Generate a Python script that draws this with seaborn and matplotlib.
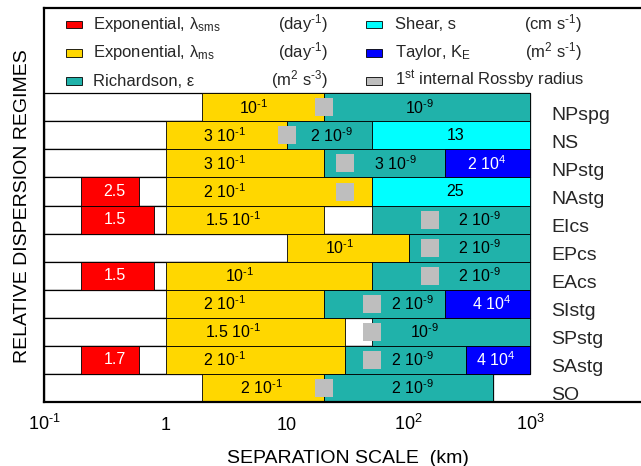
import numpy as np
import matplotlib
matplotlib.use("Agg")
import matplotlib.pyplot as plt
from matplotlib.patches import Rectangle
from matplotlib.ticker import NullLocator
import seaborn as sns

nan = np.nan

# ---------------- data ----------------
regimes = ["NPspg", "NS", "NPstg", "NAstg", "EIcs", "EPcs", "EAcs",
           "SIstg", "SPstg", "SAstg", "SO"]

# Exponential lambda_sms (day^-1)  [red]
red_start = [nan, nan, nan, 0.2, 0.2, nan, 0.2, nan, nan, 0.2, nan]
red_end = [nan, nan, nan, 0.6, 0.8, nan, 0.8, nan, nan, 0.6, nan]
red_value = ["", "", "", "2.5", "1.5", "", "1.5", "", "", "1.7", ""]

# Exponential lambda_ms (day^-1)  [yellow]
yellow_start = [2, 1, 1, 1, 1, 10, 1, 1, 1, 1, 2]
yellow_end = [20, 10, 20, 50, 20, 100, 50, 20, 30, 30, 20]
yellow_value = ["10$^{\\text{-1}}$", "3 10$^{\\text{-1}}$", "3 10$^{\\text{-1}}$",
                "2 10$^{\\text{-1}}$", "1.5 10$^{\\text{-1}}$", "10$^{\\text{-1}}$",
                "10$^{\\text{-1}}$", "2 10$^{\\text{-1}}$", "1.5 10$^{\\text{-1}}$",
                "2 10$^{\\text{-1}}$", "2 10$^{\\text{-1}}$"]

# Richardson epsilon (m^2 s^-3)  [teal]
teal_start = [20, 10, 20, nan, 50, 100, 50, 20, 50, 30, 20]
teal_end = [1000, 50, 200, nan, 1000, 1000, 1000, 200, 1000, 300, 500]
teal_value = ["10$^{\\text{-9}}$", "2 10$^{\\text{-9}}$", "3 10$^{\\text{-9}}$", "",
              "2 10$^{\\text{-9}}$", "2 10$^{\\text{-9}}$", "2 10$^{\\text{-9}}$",
              "2 10$^{\\text{-9}}$", "10$^{\\text{-9}}$", "2 10$^{\\text{-9}}$",
              "2 10$^{\\text{-9}}$"]

# Shear s (cm s^-1)  [cyan]
cyan_start = [nan, 50, nan, 50, nan, nan, nan, nan, nan, nan, nan]
cyan_end = [nan, 1000, nan, 1000, nan, nan, nan, nan, nan, nan, nan]
cyan_value = ["", "13", "", "25", "", "", "", "", "", "", ""]

# Taylor K_E (m^2 s^-1)  [blue]
blue_start = [nan, nan, 200, nan, nan, nan, nan, 200, nan, 300, nan]
blue_end = [nan, nan, 1000, nan, nan, nan, nan, 1000, nan, 1000, nan]
blue_value = ["", "", "2 10$^{4}$", "", "", "", "", "4 10$^{4}$", "", "4 10$^{4}$", ""]

# 1st internal Rossby radius (km)
rossby_radius = [20, 10, 30, 30, 150, 150, 150, 50, 50, 50, 20]

# annotation anchor positions (km) for the value labels
red_label_x = [nan, nan, nan, 0.38, 0.38, nan, 0.38, nan, nan, 0.38, nan]
yellow_label_x = [5.35, 3.06, 3.06, 3.06, 3.56, 27, 4.06, 3.06, 3.56, 3.06, 6.1]
teal_label_x = [123, 23, 78, nan, 384, 384, 384, 107, 135, 107, 107]
cyan_label_x = [nan, 244, nan, 240, nan, nan, nan, nan, nan, nan, nan]
blue_label_x = [nan, nan, 443, nan, nan, nan, nan, 480, nan, 520, nan]

tick_values = [0.1, 1, 10, 100, 1000]
tick_labels = ["10$^{\\text{-1}}$", "1", "10", "10$^{2}$", "10$^{3}$"]

# ---------------- style ----------------
sns.set_theme(style="white")
plt.rcParams["font.family"] = ["Liberation Sans", "DejaVu Sans"]
plt.rcParams["mathtext.fontset"] = "custom"
plt.rcParams["mathtext.rm"] = "Liberation Sans"
plt.rcParams["mathtext.it"] = "Liberation Sans:italic"
plt.rcParams["mathtext.bf"] = "Liberation Sans:bold"
plt.rcParams["mathtext.default"] = "regular"

C_RED, C_YEL, C_TEAL, C_CYAN, C_BLUE, C_GRAY = (
    "#FF0000", "#FFD700", "#20B2AA", "#00FFFF", "#0000FF", "#BEBEBE")

W, H = 641, 466
fig = plt.figure(figsize=(W / 100, H / 100), dpi=100)
ax_l, ax_r, ax_t, ax_b = 44.3, 641, 8, 402
ax = fig.add_axes([ax_l / W, 1 - ax_b / H, (ax_r - ax_l) / W, (ax_b - ax_t) / H])
ax.set_xscale("log")
ax.set_xlim(0.1, 10 ** ((641 - 165.7) / 121.4))
ax.set_ylim(-0.5, 13.54)

ypos = np.arange(len(regimes))[::-1].astype(float)

# white row backgrounds
all_ends = np.array([red_end, yellow_end, teal_end, cyan_end, blue_end], float)
row_hi = np.nanmax(all_ends, axis=0)
ax.barh(ypos, row_hi - 0.1, left=0.1, height=1, color="white",
        edgecolor="black", linewidth=0.9, zorder=1)


def draw_segments(start, end, color, values, label_x, txtcolor):
    s = np.array(start, float)
    e = np.array(end, float)
    m = ~np.isnan(s)
    ax.barh(ypos[m], e[m] - s[m], left=s[m], height=1, color=color,
            edgecolor="black", linewidth=0.6, zorder=2)
    for i in np.where(m)[0]:
        if values[i]:
            ax.text(label_x[i], ypos[i], values[i], ha="center", va="center",
                    color=txtcolor, fontsize=11.5, zorder=5)


draw_segments(red_start, red_end, C_RED, red_value, red_label_x, "white")
draw_segments(yellow_start, yellow_end, C_YEL, yellow_value, yellow_label_x, "black")
draw_segments(teal_start, teal_end, C_TEAL, teal_value, teal_label_x, "black")
draw_segments(cyan_start, cyan_end, C_CYAN, cyan_value, cyan_label_x, "black")
draw_segments(blue_start, blue_end, C_BLUE, blue_value, blue_label_x, "white")

# Rossby radius squares
sns.scatterplot(x=rossby_radius, y=ypos, marker="s", s=187, color=C_GRAY,
                linewidth=0, zorder=4, ax=ax, legend=False)

# regime names
for name, y in zip(regimes, ypos):
    ax.text(1500, y - 0.44, name, ha="left", va="baseline", fontsize=14, zorder=5)

# axes styling
for side in ["left", "bottom", "top"]:
    ax.spines[side].set_visible(True)
    ax.spines[side].set_color("black")
    ax.spines[side].set_linewidth(1.6)
ax.spines["right"].set_visible(False)
ax.set_yticks([])
ax.set_xticks(tick_values)
ax.set_xticklabels(tick_labels)
ax.xaxis.set_minor_locator(NullLocator())
ax.tick_params(axis="x", length=0, pad=20, labelsize=13, colors="black")
for lab in ax.get_xticklabels():
    lab.set_va("baseline")
ax.grid(False)

ax.set_xlabel("SEPARATION SCALE  (km)", fontsize=14, color="black")
ax.xaxis.set_label_coords(0.509, -0.1556)
ax.xaxis.label.set_va("baseline")
ax.set_ylabel("RELATIVE DISPERSION REGIMES", fontsize=14, color="black")
ax.yaxis.set_label_coords(-0.0357, 0.496)
ax.yaxis.label.set_va("center")

# legend (drawn in pixel-derived figure coordinates)
def P(x, y):
    return x / W, 1 - y / H


legend_items = [
    (C_RED, "Exponential, λ$_{\\mathrm{sms}}$", "(day$^{\\text{-1}}$)"),
    (C_YEL, "Exponential, λ$_{\\mathrm{ms}}$", "(day$^{\\text{-1}}$)"),
    (C_TEAL, "Richardson, ε", "(m$^{2}$ s$^{\\text{-3}}$)"),
    (C_CYAN, "Shear, s", "(cm s$^{\\text{-1}}$)"),
    (C_BLUE, "Taylor, K$_{\\mathrm{E}}$", "(m$^{2}$ s$^{\\text{-1}}$)"),
    (C_GRAY, "1$^{\\mathrm{st}}$ internal Rossby radius", ""),
]
baselines = [29.3, 57.5, 85.7]
cols = [(65.7, 93.3, 328), (365.7, 395, 582)]
for k, (col, lab, unit) in enumerate(legend_items):
    cx_patch, cx_text, cx_unit = cols[k // 3]
    yb = baselines[k % 3]
    x0, y0 = P(cx_patch, yb - 1.0)
    fig.add_artist(Rectangle((x0, y0), 16 / W, 7.6 / H, facecolor=col,
                             edgecolor="black", linewidth=0.6,
                             transform=fig.transFigure))
    fig.text(*P(cx_text, yb), lab, ha="left", va="baseline", fontsize=12)
    if unit:
        fig.text(*P(cx_unit, yb), unit, ha="right", va="baseline", fontsize=12)

fig.savefig("out.png", dpi=100)
